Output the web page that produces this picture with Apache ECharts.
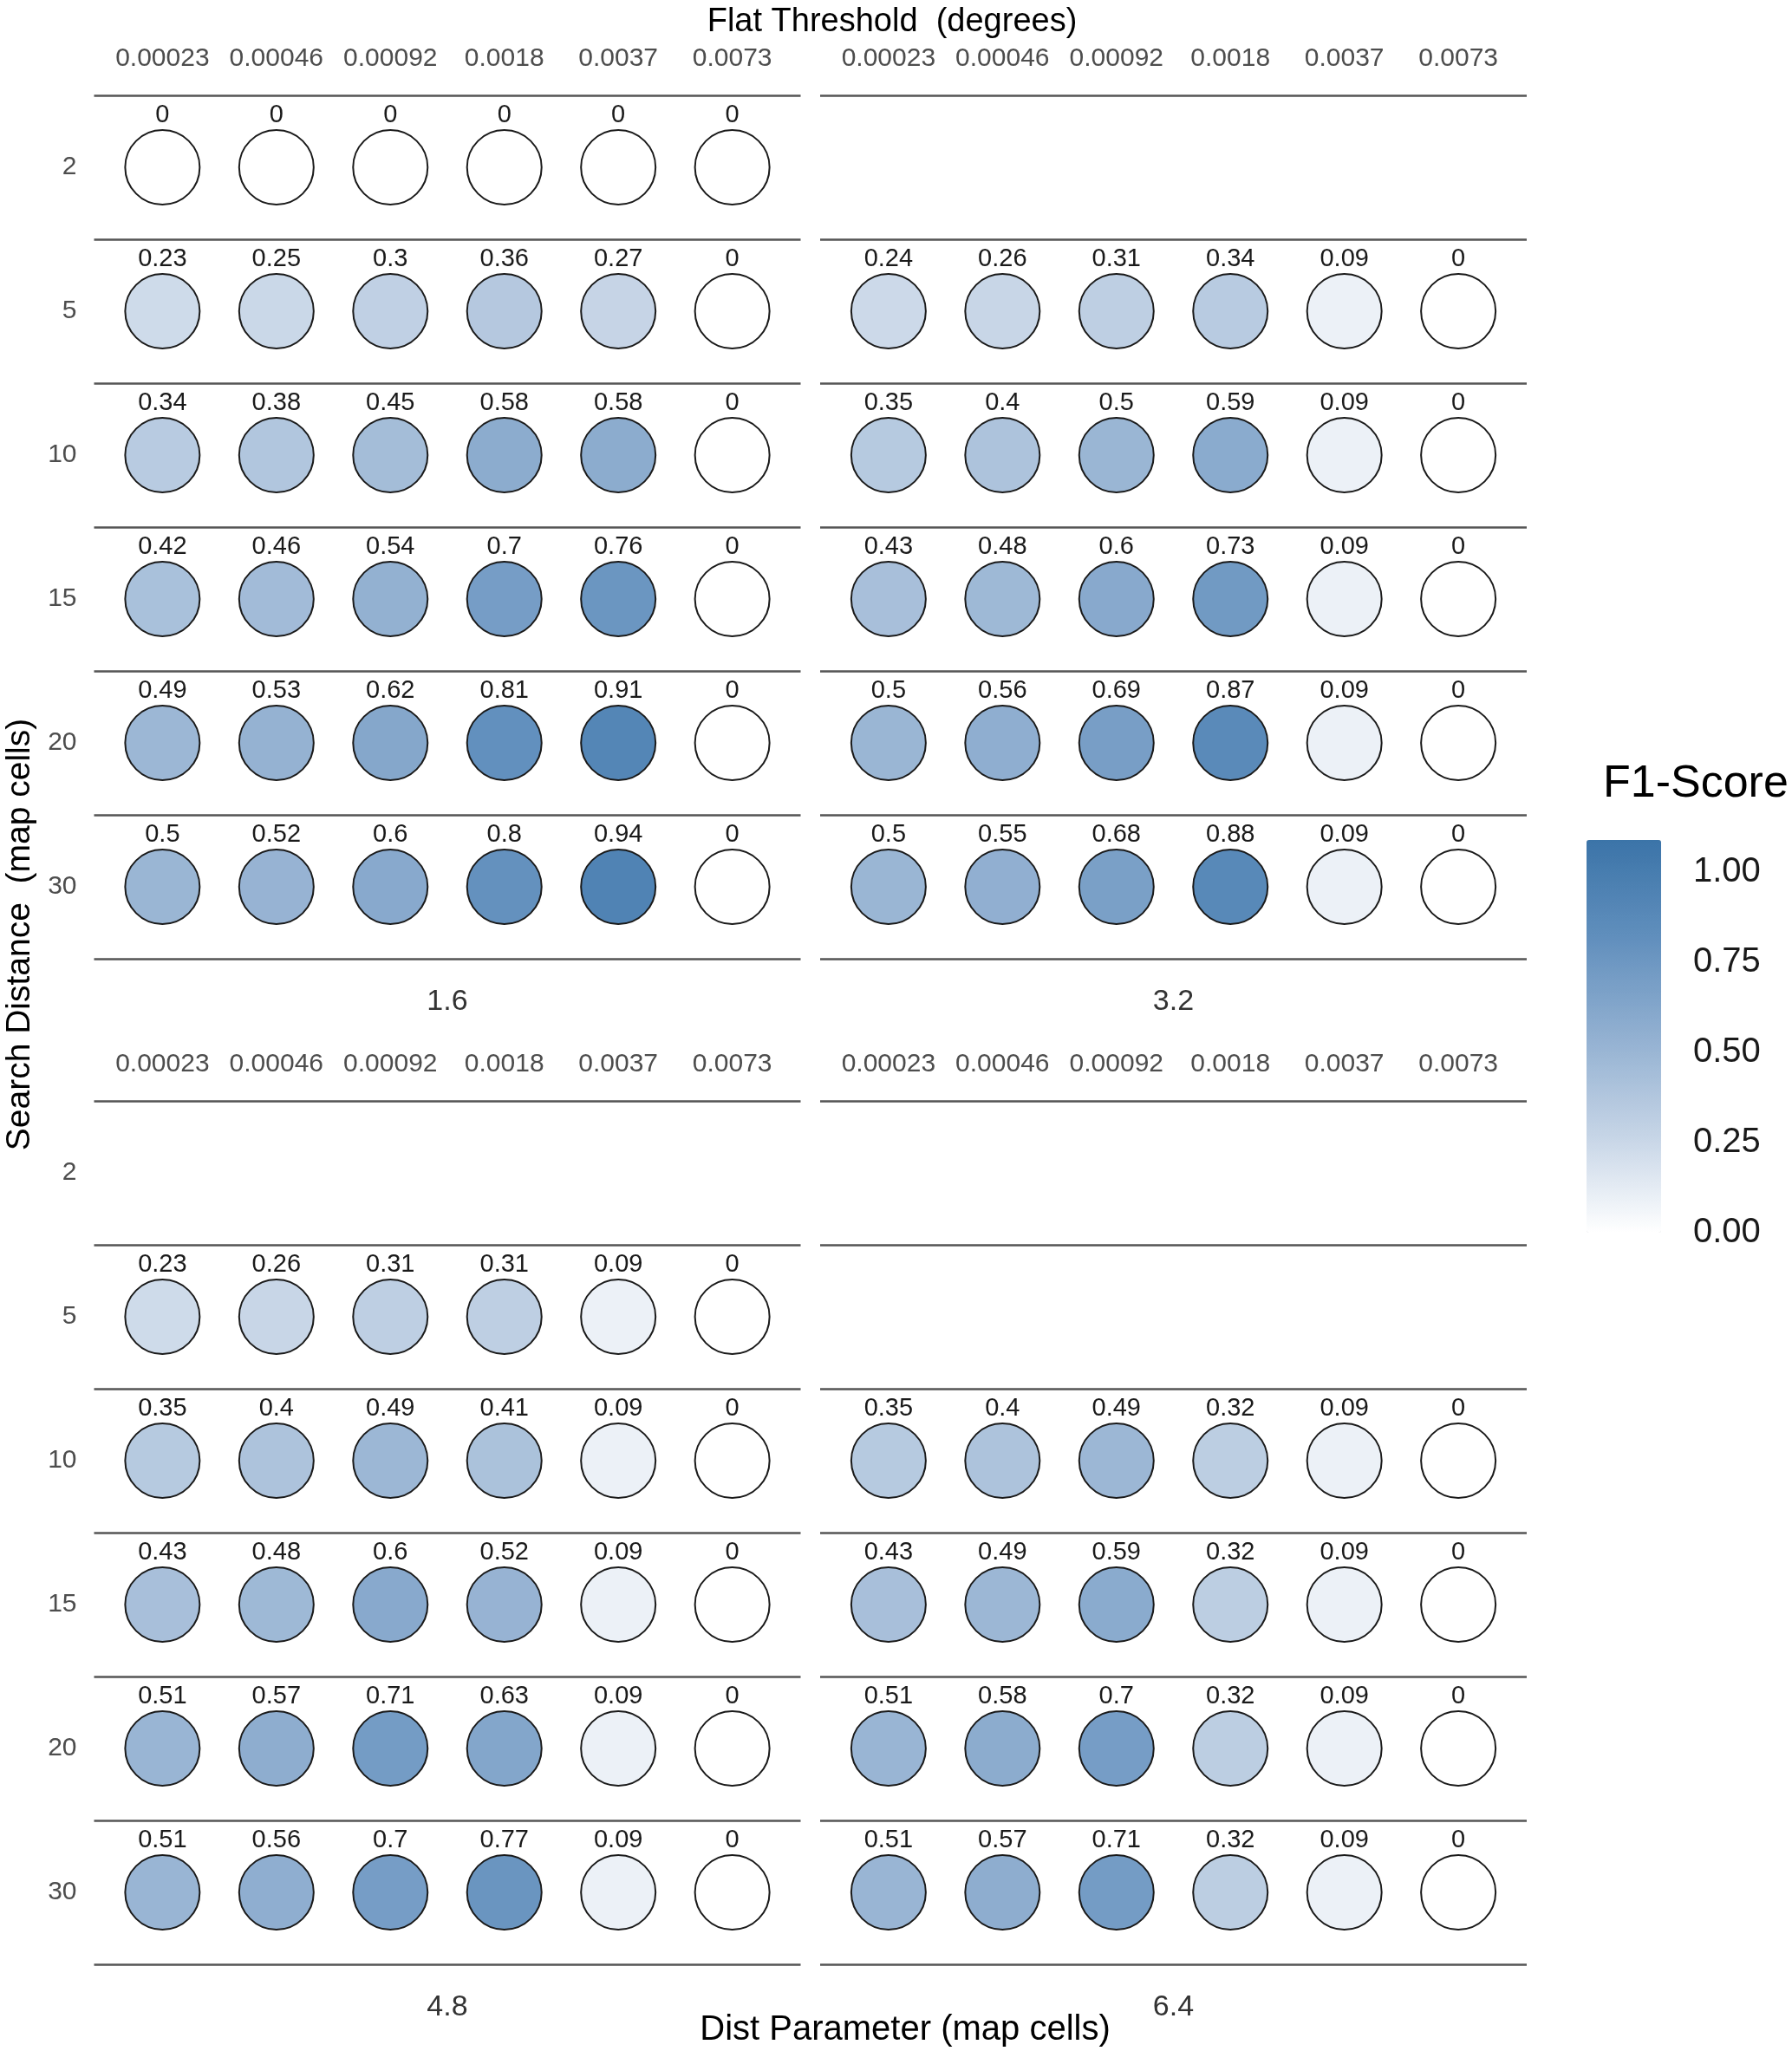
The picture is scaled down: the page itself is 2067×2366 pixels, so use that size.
<!DOCTYPE html>
<html>
<head>
<meta charset="utf-8">
<style>
html,body{margin:0;padding:0;background:#ffffff;}
#chart{width:2067px;height:2366px;}
</style>
<script src="https://cdn.jsdelivr.net/npm/echarts@6/dist/echarts.min.js"></script>
</head>
<body>
<div id="chart"></div>
<script>
// ---- data ----
const thresholds = ['0.00023', '0.00046', '0.00092', '0.0018', '0.0037', '0.0073'];
const searchDistances = ['2', '5', '10', '15', '20', '30'];
const distParams = ['1.6', '3.2', '4.8', '6.4'];
const legendTicks = [1.00, 0.75, 0.50, 0.25, 0.00];

// rows follow searchDistances; null = no data for that row
const f1Dist16 = [
  [0, 0, 0, 0, 0, 0],
  [0.23, 0.25, 0.3, 0.36, 0.27, 0],
  [0.34, 0.38, 0.45, 0.58, 0.58, 0],
  [0.42, 0.46, 0.54, 0.7, 0.76, 0],
  [0.49, 0.53, 0.62, 0.81, 0.91, 0],
  [0.5, 0.52, 0.6, 0.8, 0.94, 0]
];
const f1Dist32 = [
  null,
  [0.24, 0.26, 0.31, 0.34, 0.09, 0],
  [0.35, 0.4, 0.5, 0.59, 0.09, 0],
  [0.43, 0.48, 0.6, 0.73, 0.09, 0],
  [0.5, 0.56, 0.69, 0.87, 0.09, 0],
  [0.5, 0.55, 0.68, 0.88, 0.09, 0]
];
const f1Dist48 = [
  null,
  [0.23, 0.26, 0.31, 0.31, 0.09, 0],
  [0.35, 0.4, 0.49, 0.41, 0.09, 0],
  [0.43, 0.48, 0.6, 0.52, 0.09, 0],
  [0.51, 0.57, 0.71, 0.63, 0.09, 0],
  [0.51, 0.56, 0.7, 0.77, 0.09, 0]
];
const f1Dist64 = [
  null,
  null,
  [0.35, 0.4, 0.49, 0.32, 0.09, 0],
  [0.43, 0.49, 0.59, 0.32, 0.09, 0],
  [0.51, 0.58, 0.7, 0.32, 0.09, 0],
  [0.51, 0.57, 0.71, 0.32, 0.09, 0]
];
const panelValues = [f1Dist16, f1Dist32, f1Dist48, f1Dist64];

// ---- layout ----
const FONT = '"Liberation Sans", Arial, Helvetica, sans-serif';
const panelBoxes = [
  {left: 108.5, top: 110, width: 815, height: 996},
  {left: 946, top: 110, width: 815, height: 996},
  {left: 108.5, top: 1270, width: 815, height: 996},
  {left: 946, top: 1270, width: 815, height: 996}
];
const stripY = [1156, 1156, 2316, 2316];
const legendTop = 969, legendHeight = 453, legendMax = 1.09;

const grids = [], xAxes = [], yAxes = [], series = [], graphics = [];
panelBoxes.forEach(function (b, i) {
  grids.push({left: b.left, top: b.top, width: b.width, height: b.height, containLabel: false});
  xAxes.push({
    gridIndex: i, type: 'value', position: 'top', min: -0.6, max: 5.6,
    axisLine: {show: false}, axisTick: {show: false}, splitLine: {show: false},
    axisLabel: {
      color: '#4d4d4d', fontSize: 30, fontFamily: FONT, margin: 27,
      showMinLabel: true, showMaxLabel: true, hideOverlap: false,
      formatter: function (v) {
        return (Number.isInteger(v) && thresholds[v] !== undefined) ? thresholds[v] : '';
      }
    }
  });
  yAxes.push({
    gridIndex: i, type: 'category', data: searchDistances, inverse: true,
    axisLine: {show: false}, axisTick: {show: false},
    splitLine: {show: true, lineStyle: {color: '#555555', width: 2.5}},
    axisLabel: {show: i % 2 === 0, color: '#4d4d4d', fontSize: 30, fontFamily: FONT, margin: 20, padding: [4, 0, 0, 0]}
  });
  const data = [];
  panelValues[i].forEach(function (row, r) {
    if (!row) return;
    row.forEach(function (v, c) { data.push([c, r, v]); });
  });
  series.push({
    type: 'scatter', xAxisIndex: i, yAxisIndex: i, data: data,
    symbol: 'circle', symbolSize: 86,
    itemStyle: {borderColor: '#1a1a1a', borderWidth: 2, opacity: 1},
    label: {
      show: true, position: 'top', distance: 5, offset: [0, 3], color: '#1a1a1a',
      fontSize: 29, fontFamily: FONT,
      formatter: function (p) { return String(p.value[2]); }
    },
    emphasis: {disabled: true}
  });
  graphics.push({
    type: 'text', x: b.left + b.width / 2, y: stripY[i],
    style: {text: distParams[i], fill: '#333333', font: '34px ' + FONT, align: 'center', verticalAlign: 'middle'}
  });
});

// titles
graphics.push({
  type: 'text', x: 1029, y: 26,
  style: {text: 'Flat Threshold  (degrees)', fill: '#000000', font: '38px ' + FONT, align: 'center', verticalAlign: 'middle'}
});
graphics.push({
  type: 'text', x: 1044, y: 2342,
  style: {text: 'Dist Parameter (map cells)', fill: '#000000', font: '40px ' + FONT, align: 'center', verticalAlign: 'middle'}
});
graphics.push({
  type: 'text', x: 23, y: 1078, rotation: Math.PI / 2,
  style: {text: 'Search Distance  (map cells)', fill: '#000000', font: '39px ' + FONT, align: 'center', verticalAlign: 'middle'}
});
// legend title and tick labels
graphics.push({
  type: 'text', x: 1849, y: 905,
  style: {text: 'F1-Score', fill: '#000000', font: '52px ' + FONT, align: 'left', verticalAlign: 'middle'}
});
legendTicks.forEach(function (t) {
  graphics.push({
    type: 'text', x: 1953, y: legendTop + (legendMax - t) / legendMax * legendHeight,
    style: {text: t.toFixed(2), fill: '#1a1a1a', font: '40px ' + FONT, align: 'left', verticalAlign: 'middle'}
  });
});

const chart = echarts.init(document.getElementById('chart'), null, {renderer: 'canvas'});
chart.setOption({
  backgroundColor: '#ffffff',
  animation: false,
  grid: grids,
  xAxis: xAxes,
  yAxis: yAxes,
  visualMap: {
    type: 'continuous', min: 0, max: legendMax, dimension: 2,
    seriesIndex: [0, 1, 2, 3], calculable: false, hoverLink: false,
    orient: 'vertical', left: 1830, top: legendTop, padding: 0,
    itemWidth: 86, itemHeight: legendHeight, text: null, showLabel: false,
    inRange: {color: ['#ffffff', '#c5d4e6', '#92b0d1', '#618fbd', '#3b74a8']}
  },
  series: series,
  graphic: graphics
});
</script>
</body>
</html>
